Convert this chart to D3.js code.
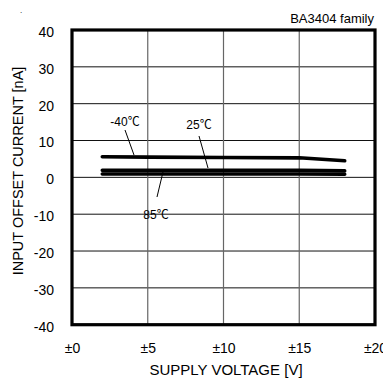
<!DOCTYPE html>
<html><head><meta charset="utf-8">
<script src="https://cdn.jsdelivr.net/npm/d3@7"></script>
<style>body{margin:0;background:#fff}svg{display:block}text{font-family:"Liberation Sans",Arial,sans-serif;fill:#000}</style>
</head><body><svg id="c" width="383" height="380"></svg>
<script>
const voltages = [2, 5, 10, 15, 18];
const seriesNames = ["-40℃", "25℃", "85℃"];
const valuesM40 = [5.6, 5.5, 5.4, 5.3, 4.5];
const values25 = [1.9, 1.9, 1.9, 1.9, 1.75];
const values85 = [0.9, 0.9, 0.9, 0.9, 0.85];
const xTicks = [0, 5, 10, 15, 20];
const xTickLabels = ["±0", "±5", "±10", "±15", "±20"];
const yTicks = [-40, -30, -20, -10, 0, 10, 20, 30, 40];
const yTickLabels = ["-40", "-30", "-20", "-10", "0", "10", "20", "30", "40"];

const svg = d3.select("#c");
const L = 72, R = 375, T = 30, B = 324.7;
const x = d3.scaleLinear().domain([0, 20]).range([L, R]);
const y = d3.scaleLinear().domain([-40, 40]).range([B, T]);

// grid
svg.append("g").selectAll("line").data(yTicks.slice(1, -1)).join("line")
  .attr("x1", L).attr("x2", R).attr("y1", d => y(d)).attr("y2", d => y(d))
  .attr("stroke", "#111").attr("stroke-width", 1);
svg.append("g").selectAll("line").data(xTicks.slice(1, -1)).join("line")
  .attr("y1", T).attr("y2", B).attr("x1", d => x(d)).attr("x2", d => x(d))
  .attr("stroke", "#666").attr("stroke-width", 1.2);

// axes labels via d3 axes
const yAxis = svg.append("g").attr("transform", `translate(${L - 18},2)`)
  .call(d3.axisLeft(y).tickValues(yTicks).tickFormat((d, i) => yTickLabels[i]).tickSize(0).tickPadding(0));
yAxis.select(".domain").remove();
yAxis.selectAll("text").attr("font-size", 14).attr("font-family", "Liberation Sans, Arial, sans-serif").attr("fill", "#000");

const xAxis = svg.append("g").attr("transform", `translate(0,${B + 18})`)
  .call(d3.axisBottom(x).tickValues(xTicks).tickFormat((d, i) => xTickLabels[i]).tickSize(0).tickPadding(0));
xAxis.select(".domain").remove();
xAxis.selectAll("text").attr("font-size", 14).attr("font-family", "Liberation Sans, Arial, sans-serif").attr("fill", "#000");

// data lines
const line = d3.line().x((d, i) => x(voltages[i])).y(d => y(d));
[values85, values25, valuesM40].forEach(vals => {
  svg.append("path").datum(vals).attr("d", line).attr("fill", "none")
    .attr("stroke", "#000").attr("stroke-width", 3.6).attr("stroke-linecap", "round");
});

// frame
svg.append("rect").attr("x", L).attr("y", T).attr("width", R - L).attr("height", B - T)
  .attr("fill", "none").attr("stroke", "#000").attr("stroke-width", 3.2);

// series labels with pointers
const ann = [
  {name: seriesNames[0], tx: 125, ty: 126, p: [[125, 130], [134, 155]]},
  {name: seriesNames[1], tx: 199, ty: 129, p: [[199, 136], [208, 168]]},
  {name: seriesNames[2], tx: 156, ty: 219, p: [[157, 197], [163, 172]]}
];
ann.forEach(a => {
  const t = svg.append("text").attr("x", a.tx).attr("y", a.ty).attr("text-anchor", "middle")
    .attr("font-size", 12);
  t.append("tspan").text(a.name.slice(0, -1));
  t.append("tspan").attr("font-family", "'Noto Sans CJK JP', sans-serif").attr("font-size", 12).text(a.name.slice(-1));
  svg.append("line").attr("x1", a.p[0][0]).attr("y1", a.p[0][1]).attr("x2", a.p[1][0]).attr("y2", a.p[1][1])
    .attr("stroke", "#000").attr("stroke-width", 1);
});

svg.append("text").attr("x", 374).attr("y", 23).attr("text-anchor", "end").attr("font-size", 13).text("BA3404 family");
svg.append("text").attr("x", 226).attr("y", 375).attr("text-anchor", "middle").attr("font-size", 15).text("SUPPLY VOLTAGE [V]");
svg.append("text").attr("transform", "translate(23,171) rotate(-90)").attr("text-anchor", "middle").attr("font-size", 14.5).text("INPUT OFFSET CURRENT [nA]");
svg.append("text").attr("x", 20).attr("y", 13).attr("font-size", 8).text(".");
</script></body></html>
